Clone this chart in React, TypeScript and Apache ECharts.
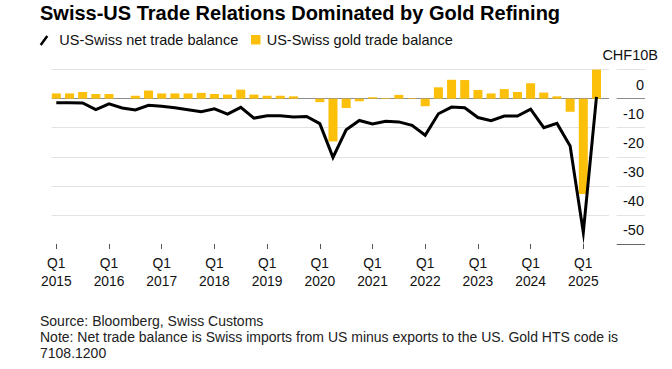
import React, { useEffect, useRef } from "react";
import * as echarts from "echarts";

// Quarterly data, Q1 2015 (index 0) .. Q2 2025 (index 41), CHF billions
const years = [2015, 2016, 2017, 2018, 2019, 2020, 2021, 2022, 2023, 2024, 2025];
const goldBalance = [
  1.8, 1.8, 2.3, 1.6, 1.6, 0.0, 1.0, 2.8, 1.8, 1.8, 1.8, 2.0, 1.6, 1.4, 3.1, 1.4,
  1.0, 1.0, 0.8, 0.0, -1.2, -14.7, -3.2, -0.9, 0.5, 0.2, 1.3, 0.2, -2.6, 3.9, 6.5,
  6.4, 3.0, 1.8, 3.3, 2.3, 5.3, 2.1, 0.8, -4.5, -32.8, 10.6,
];
const netBalance = [
  -1.4, -1.4, -1.5, -3.8, -1.8, -3.2, -3.9, -2.3, -2.6, -3.1, -3.8, -4.5, -3.5, -5.3,
  -3.0, -6.7, -5.9, -5.9, -6.3, -6.1, -8.6, -20.2, -10.7, -7.5, -8.7, -7.8, -8.0, -9.2,
  -12.6, -5.2, -2.9, -3.1, -6.5, -7.6, -6.0, -6.0, -3.6, -10.0, -8.5, -16.3, -46.0, 0.6,
];
const yMin = -50;
const yMax = 10;
const yStep = 10;
const unitLabel = "CHF10B";
const titleText = "Swiss-US Trade Relations Dominated by Gold Refining";
const legendNames = ["US-Swiss net trade balance", "US-Swiss gold trade balance"];
const sourceText = "Source: Bloomberg, Swiss Customs";
const noteText = "Note: Net trade balance is Swiss imports from US minus exports to the US. Gold HTS code is";
const noteText2 = "7108.1200";

const FONT = "'Liberation Sans', Arial, Helvetica, sans-serif";
const GOLD = "#fcbf0a";
const GRID_LIGHT = "#e3e3e3";
const ZERO_LINE = "#8c8c8c";

export default function App() {
  const ref = useRef<HTMLDivElement>(null);

  useEffect(() => {
    if (!ref.current) return;
    const chart = echarts.init(ref.current, null, { renderer: "svg" });

    const tickValues = years.map((_, i) => i * 4);
    const barData = goldBalance.map((v, i) => [i, v]);
    const lineData = netBalance.map((v, i) => [i, v]);

    // split line colours from min to max: -50, -40, -30, -20, -10, 0, 10
    const plotSplitColors = ["rgba(0,0,0,0)", GRID_LIGHT, GRID_LIGHT, GRID_LIGHT, GRID_LIGHT, ZERO_LINE, GRID_LIGHT];
    const labelSplitColors = ["#666", GRID_LIGHT, GRID_LIGHT, GRID_LIGHT, GRID_LIGHT, ZERO_LINE, GRID_LIGHT];

    const option: any = {
      animation: false,
      backgroundColor: "#fff",
      textStyle: { fontFamily: FONT },
      grid: [
        { left: 51.7, width: 557.3, top: 69.6, height: 174.4, containLabel: false },
        { left: 616.7, width: 28.3, top: 69.6, height: 174.4, containLabel: false },
      ],
      xAxis: [
        {
          type: "value",
          gridIndex: 0,
          min: -0.35,
          max: 41.95,
          axisLine: { show: false, onZero: false },
          splitLine: { show: false },
          axisTick: {
            show: true,
            customValues: tickValues,
            length: 5,
            lineStyle: { color: "#555", width: 1 },
          },
          axisLabel: {
            show: true,
            customValues: tickValues,
            formatter: (v: number) => `Q1\n${years[Math.round(v / 4)]}`,
            fontFamily: FONT,
            fontSize: 13.8,
            lineHeight: 17.7,
            color: "#111",
            margin: 11,
          },
        },
        {
          type: "value",
          gridIndex: 1,
          min: 0,
          max: 1,
          show: false,
        },
      ],
      yAxis: [
        {
          type: "value",
          gridIndex: 0,
          min: yMin,
          max: yMax,
          interval: yStep,
          axisLine: { show: false },
          axisTick: { show: false },
          axisLabel: { show: false },
          splitLine: { show: true, lineStyle: { color: plotSplitColors, width: 1 } },
        },
        {
          type: "value",
          gridIndex: 1,
          position: "right",
          min: yMin,
          max: yMax,
          interval: yStep,
          axisLine: { show: false },
          axisTick: { show: false },
          splitLine: { show: true, lineStyle: { color: labelSplitColors, width: 1 } },
          axisLabel: {
            inside: true,
            margin: 1,
            fontFamily: FONT,
            fontSize: 14.5,
            color: "#111",
            verticalAlign: "bottom",
            lineHeight: 28,
            formatter: (v: number) => (v === yMax ? "" : String(v)),
          },
        },
      ],
      series: [
        {
          name: legendNames[1],
          type: "bar",
          xAxisIndex: 0,
          yAxisIndex: 0,
          data: barData,
          barWidth: 9,
          itemStyle: { color: GOLD },
          z: 2,
        },
        {
          name: legendNames[0],
          type: "line",
          xAxisIndex: 0,
          yAxisIndex: 0,
          data: lineData,
          symbol: "none",
          lineStyle: { color: "#000", width: 3, join: "miter", miterLimit: 12 },
          z: 3,
        },
        {
          type: "line",
          xAxisIndex: 1,
          yAxisIndex: 1,
          data: [],
          silent: true,
        },
      ],
      graphic: [
        {
          type: "text",
          left: 40,
          top: 3,
          style: {
            text: titleText,
            font: `bold 20px ${FONT}`,
            fill: "#000",
          },
        },
        {
          type: "line",
          shape: { x1: 40.7, y1: 45, x2: 47.3, y2: 36 },
          style: { stroke: "#000", lineWidth: 2.5 },
        },
        {
          type: "text",
          x: 59.3,
          y: 39.5,
          style: {
            text: legendNames[0],
            font: `14.5px ${FONT}`,
            fill: "#111",
            verticalAlign: "middle",
          },
        },
        {
          type: "rect",
          shape: { x: 251, y: 35, width: 9.5, height: 9.5 },
          style: { fill: GOLD },
        },
        {
          type: "text",
          x: 266.7,
          y: 39.5,
          style: {
            text: legendNames[1],
            font: `14.5px ${FONT}`,
            fill: "#111",
            verticalAlign: "middle",
          },
        },
        {
          type: "text",
          x: 658,
          y: 55,
          style: {
            text: unitLabel,
            font: `14.5px ${FONT}`,
            fill: "#111",
            align: "right",
            verticalAlign: "middle",
          },
        },
        {
          type: "text",
          x: 40,
          y: 320.7,
          style: { text: sourceText, font: `14px ${FONT}`, fill: "#222", verticalAlign: "middle" },
        },
        {
          type: "text",
          x: 40,
          y: 337.3,
          style: { text: noteText, font: `14px ${FONT}`, fill: "#222", verticalAlign: "middle" },
        },
        {
          type: "text",
          x: 40,
          y: 353,
          style: { text: noteText2, font: `14px ${FONT}`, fill: "#222", verticalAlign: "middle" },
        },
      ],
    };

    chart.setOption(option);
    return () => chart.dispose();
  }, []);

  return (
    <div
      ref={ref}
      style={{ position: "absolute", left: 0, top: 0, width: 672, height: 369, background: "#fff" }}
    />
  );
}
